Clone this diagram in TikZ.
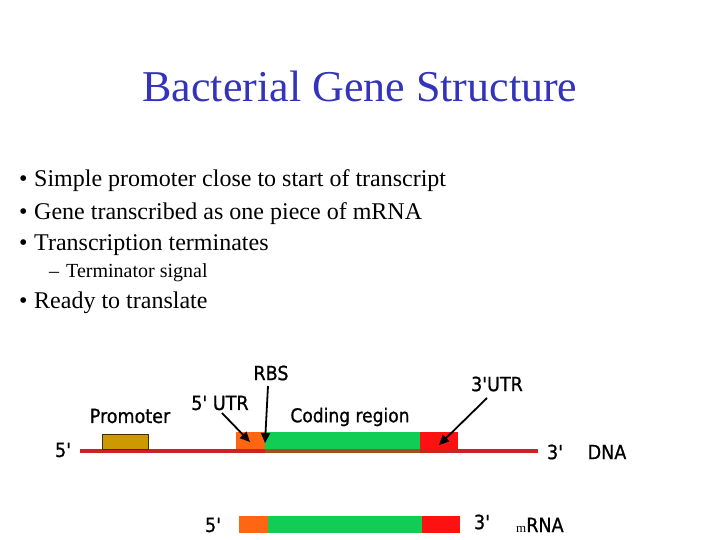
\documentclass[tikz,border=0pt]{standalone}
\usepackage{fontspec}
\setmainfont{Liberation Serif}
\newfontfamily\diagfont[FakeBold=0.9]{DejaVu Sans Condensed}
\usetikzlibrary{arrows.meta}
\definecolor{titleblue}{RGB}{51,51,187}
\definecolor{dnared}{RGB}{204,34,34}
\definecolor{utrorange}{RGB}{255,102,17}
\definecolor{codegreen}{RGB}{17,204,85}
\definecolor{utrred}{RGB}{255,17,17}
\definecolor{promgold}{RGB}{204,153,0}
\definecolor{brownline}{RGB}{160,80,30}
\tikzset{
  bullettext/.style={anchor=base west, inner sep=0pt, font=\fontsize{24}{28}\selectfont},
  subtext/.style={anchor=base west, inner sep=0pt, font=\fontsize{20}{24}\selectfont},
  lbl/.style={inner sep=0pt, font=\diagfont\fontsize{19.5}{22}\selectfont},
  ptr/.style={line width=1.8pt, -{Triangle[length=10pt,width=9pt]}},
}
\begin{document}
\begin{tikzpicture}[x=1pt,y=-1pt]
\useasboundingbox (0,0) rectangle (720,540);
% title
\node[anchor=base, inner sep=0pt, text=titleblue, font=\fontsize{44}{50}\selectfont] (title) at (360,102) {Bacterial Gene Structure};
% bullets
\node[bullettext] (b1d) at (19,187) {•};
\node[bullettext] (b1) at (34,187) {Simple promoter close to start of transcript};
\node[bullettext] (b2d) at (19,219) {•};
\node[bullettext] (b2) at (34,219) {Gene transcribed as one piece of mRNA};
\node[bullettext] (b3d) at (19,250) {•};
\node[bullettext] (b3) at (34,250) {Transcription terminates};
\node[subtext] (s1d) at (49,277) {–};
\node[subtext] (s1) at (66,277) {Terminator signal};
\node[bullettext] (b4d) at (19,308) {•};
\node[bullettext] (b4) at (34,308) {Ready to translate};
% DNA
\fill[utrorange] (236,432) rectangle (265,450);
\fill[codegreen] (265,432) rectangle (420,450);
\fill[utrred] (420,432) rectangle (458,450);
\draw[line width=3.2pt, dnared] (80,451) -- (538,451);
\draw[line width=3.2pt, brownline] (265,451) -- (420,451);
\draw[fill=promgold, draw=black!70!promgold, line width=0.6pt] (102,434) rectangle (148,449);
\node[lbl] (dna5) at (63,450) {5'};
\node[lbl] (dna3) at (555,452) {3'};
\node[lbl] (dnalbl) at (607,452) {DNA};
\node[lbl] (prom) at (130,416) {Promoter};
\node[lbl] (utr5) at (220,403) {5' UTR};
\node[lbl] (rbs) at (271,373) {RBS};
\node[lbl, font=\diagfont\fontsize{19}{22}\selectfont] (coding) at (350,417) {Coding region};
\node[lbl] (utr3) at (497,384) {3'UTR};
\coordinate (utr5tip) at (250,442);
\coordinate (rbstip) at (265,443);
\coordinate (utr3tip) at (439,445);
\draw[ptr] (222,413) -- (utr5tip);
\draw[ptr] (268,386) -- (rbstip);
\draw[ptr] (487,398) -- (utr3tip);
% mRNA
\fill[utrorange] (239,516) rectangle (268,533);
\fill[codegreen] (268,516) rectangle (422,533);
\fill[utrred] (422,516) rectangle (460,533);
\node[lbl] (m5) at (213,525) {5'};
\node[lbl] (m3) at (482,522) {3'};
\node[anchor=base west, inner sep=0pt] (mrna) at (516,532) {\fontsize{13}{15}\selectfont m\diagfont\fontsize{19.5}{22}\selectfont RNA};
\end{tikzpicture}
\end{document}
